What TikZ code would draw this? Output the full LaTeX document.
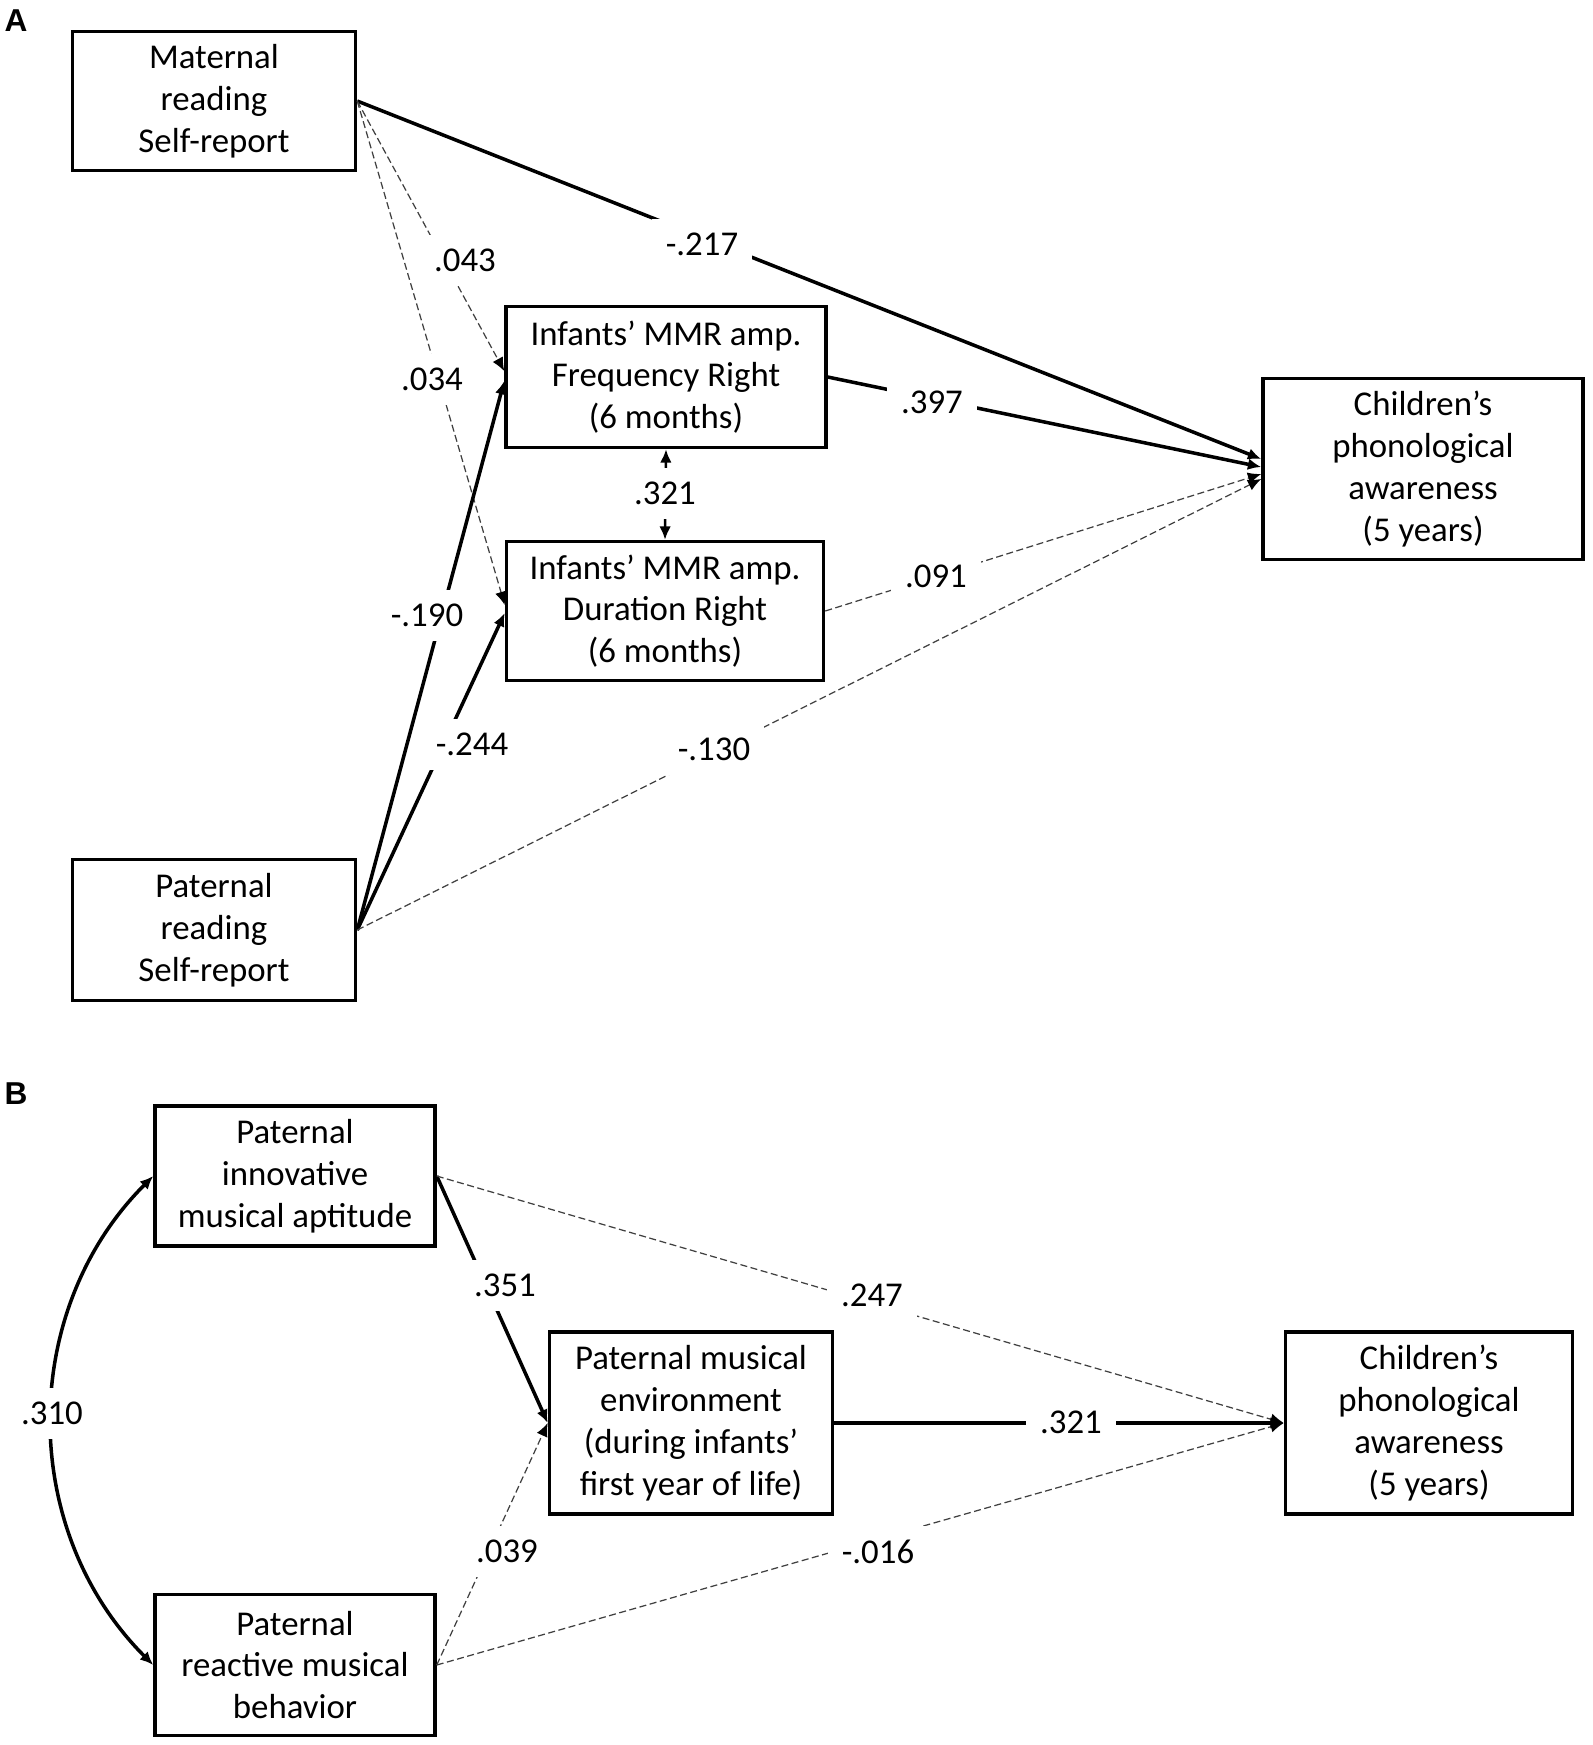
\documentclass[tikz,border=0pt]{standalone}
\usepackage{fontspec}
\setmainfont{Carlito}
\newfontfamily\panelfont{Liberation Sans}
\usepackage{tikz}
\usetikzlibrary{arrows.meta}
\tikzset{box/.style={draw=black,line width=1pt,fill=white,align=center,
 inner sep=0pt,font=\fontsize{9.9}{11.9}\selectfont},
 arr/.style={-{Latex[length=3.8pt,width=3.3pt]},line width=1pt},
 darr/.style={-{Latex[length=3.8pt,width=3.3pt,color=black]},line width=0.35pt,draw=black!75,
 dash pattern=on 2pt off 1pt},
 corr/.style={{Latex[length=3.8pt,width=3.3pt]}-{Latex[length=3.8pt,width=3.3pt]}},
 coef/.style={fill=white,inner sep=4pt,font=\fontsize{9.9}{11.9}\selectfont},
 panel/.style={font=\panelfont\bfseries\fontsize{9}{10}\selectfont}}

\begin{document}
\begin{tikzpicture}[x=1cm,y=1cm]
\useasboundingbox (0,0) rectangle (15.92,-17.45);
% panel A
\node[panel] (pA) at (0.16,-0.21) {A};
\node[box,minimum width=2.83cm,minimum height=1.39cm] (mat) at (2.14,-1.01) {Maternal\\reading\\Self-report};
\node[box,minimum width=3.20cm,minimum height=1.41cm] (freq) at (6.66,-3.77) {Infants’ MMR amp.\\Frequency Right\\(6 months)};
\node[box,minimum width=3.17cm,minimum height=1.39cm] (dur) at (6.65,-6.11) {Infants’ MMR amp.\\Duration Right\\(6 months)};
\node[box,minimum width=3.20cm,minimum height=1.81cm] (phonA) at (14.23,-4.69) {Children’s\\phonological\\awareness\\(5 years)};
\node[box,minimum width=2.83cm,minimum height=1.41cm] (pat) at (2.14,-9.30) {Paternal\\reading\\Self-report};
\draw[arr] (mat.east)--([yshift=1mm]phonA.west);
\draw[darr] (mat.east)--([yshift=.6mm]freq.west);
\draw[darr] (mat.east)--([yshift=.6mm]dur.west);
\draw[arr] (pat.east)--([yshift=-.4mm]freq.west);
\draw[arr] (pat.east)--([yshift=-.2mm]dur.west);
\draw[darr] (pat.east)--([yshift=-1mm]phonA.west);
\draw[arr] (freq.east)--([yshift=.2mm]phonA.west);
\draw[darr] (dur.east)--([yshift=-.5mm]phonA.west);
\draw[corr,line width=0.7pt] (freq.south)--(dur.north);
\node[coef] (cA1) at (7.02,-2.44) {-.217};
\node[coef] (cA2) at (4.65,-2.60) {.043};
\node[coef] (cA3) at (4.32,-3.79) {.034};
\node[coef] (cA4) at (4.27,-6.15) {-.190};
\node[coef] (cA5) at (4.72,-7.44) {-.244};
\node[coef] (cA6) at (7.14,-7.49) {-.130};
\node[coef] (cA7) at (9.32,-4.02) {.397};
\node[coef] (cA8) at (9.36,-5.76) {.091};
\node[coef] (cA9) at (6.65,-4.93) {.321};
% panel B
\node[panel] (pB) at (0.16,-10.94) {B};
\node[box,minimum width=2.80cm,minimum height=1.40cm] (innov) at (2.95,-11.76) {Paternal\\innovative\\musical aptitude};
\node[box,minimum width=2.80cm,minimum height=1.41cm] (react) at (2.95,-16.65) {Paternal\\reactive musical\\behavior};
\node[box,minimum width=2.83cm,minimum height=1.82cm] (env) at (6.91,-14.23) {Paternal musical\\environment\\(during infants’\\first year of life)};
\node[box,minimum width=2.87cm,minimum height=1.82cm] (phonB) at (14.29,-14.23) {Children’s\\phonological\\awareness\\(5 years)};
\draw[corr,line width=1pt] (innov.west) to[bend right=45] (react.west);
\draw[arr] (innov.east)--(env.west);
\draw[darr] (innov.east)--(phonB.west);
\draw[darr] (react.east)--(env.west);
\draw[darr] (react.east)--(phonB.west);
\draw[arr] (env.east)--(phonB.west);
\node[coef] (cB1) at (5.05,-12.85) {.351};
\node[coef] (cB2) at (8.72,-12.95) {.247};
\node[coef] (cB3) at (5.07,-15.51) {.039};
\node[coef] (cB4) at (8.78,-15.52) {-.016};
\node[coef] (cB5) at (10.71,-14.22) {.321};
\node[coef] (cB6) at (0.52,-14.13) {.310};
\end{tikzpicture}
\end{document}
